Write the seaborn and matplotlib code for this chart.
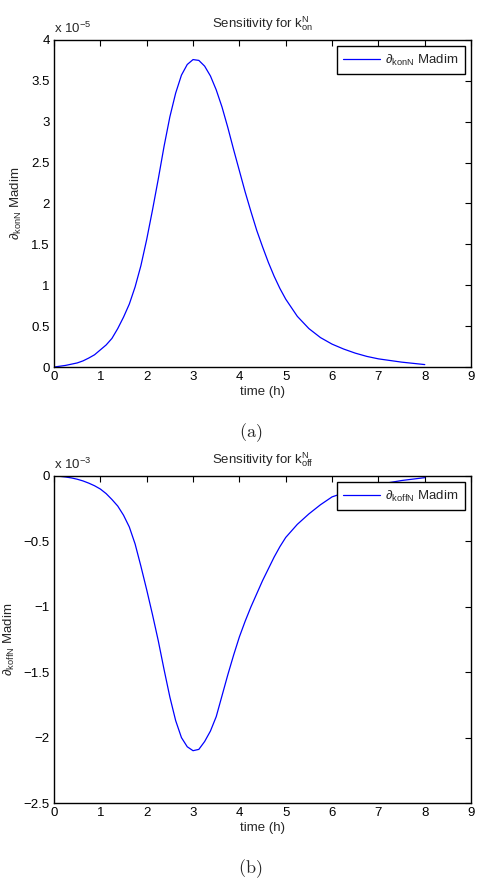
import numpy as np
import pandas as pd
import matplotlib
matplotlib.use("Agg")
import matplotlib.pyplot as plt
import seaborn as sns

# time (h) and sensitivities (scaled units)
time_h = [0, 0.125, 0.25, 0.375, 0.5, 0.625, 0.75, 0.875,
          1.0, 1.125, 1.25, 1.375, 1.5, 1.625, 1.75, 1.875,
          2.0, 2.125, 2.25, 2.375, 2.5, 2.625, 2.75, 2.875,
          3.0, 3.125, 3.25, 3.375, 3.5, 3.625, 3.75, 3.875,
          4.0, 4.125, 4.25, 4.375, 4.5, 4.625, 4.75, 4.875,
          5.0, 5.25, 5.5, 5.75, 6.0, 6.25, 6.5, 6.75, 7.0, 7.5, 8.0]

# x 1e-5
kon_sens = [0, 0.01, 0.02, 0.035, 0.05, 0.075, 0.11, 0.15,
            0.21, 0.27, 0.35, 0.47, 0.61, 0.77, 0.98, 1.24,
            1.56, 1.92, 2.30, 2.70, 3.06, 3.35, 3.57, 3.70,
            3.76, 3.75, 3.68, 3.56, 3.39, 3.18, 2.93, 2.66,
            2.40, 2.14, 1.90, 1.67, 1.47, 1.28, 1.11, 0.96,
            0.83, 0.62, 0.47, 0.36, 0.28, 0.22, 0.17, 0.13, 0.10, 0.06, 0.03]

# x 1e-3
koff_sens = [0, -0.003, -0.008, -0.015, -0.025, -0.038, -0.055, -0.075,
             -0.10, -0.135, -0.18, -0.23, -0.30, -0.39, -0.52, -0.69,
             -0.87, -1.06, -1.26, -1.48, -1.69, -1.87, -2.00, -2.07,
             -2.10, -2.09, -2.03, -1.95, -1.84, -1.68, -1.52, -1.37,
             -1.23, -1.11, -1.00, -0.90, -0.80, -0.71, -0.62, -0.54,
             -0.47, -0.37, -0.29, -0.22, -0.16, -0.13, -0.10, -0.08, -0.065, -0.035, -0.013]

x_ticks = [0, 1, 2, 3, 4, 5, 6, 7, 8, 9]
on_yticks = [0, 0.5, 1, 1.5, 2, 2.5, 3, 3.5, 4]
off_yticks = [-2.5, -2, -1.5, -1, -0.5, 0]

sns.set_style("white")
plt.rcParams["font.family"] = ["Liberation Sans", "DejaVu Sans"]
plt.rcParams["mathtext.fontset"] = "custom"
plt.rcParams["mathtext.rm"] = "Liberation Sans"
plt.rcParams["mathtext.it"] = "Liberation Sans"
plt.rcParams["mathtext.sf"] = "Liberation Sans"

fig = plt.figure(figsize=(4.8, 8.84), dpi=100)
ax1 = fig.add_axes([0.1125, 0.5848, 0.869, 0.370])
ax2 = fig.add_axes([0.1125, 0.0916, 0.869, 0.370])

panels = [
    (ax1, kon_sens, on_yticks, r"$\partial_{\mathrm{konN}}$ Madim",
     r"Sensitivity for k$^{\mathrm{N}}_{\mathrm{on}}$", r"x 10$^{-5}$", "(a)"),
    (ax2, koff_sens, off_yticks, r"$\partial_{\mathrm{koffN}}$ Madim",
     r"Sensitivity for k$^{\mathrm{N}}_{\mathrm{off}}$", r"x 10$^{-3}$", "(b)"),
]

for ax, s, yt, lab, title, mult, tag in panels:
    df = pd.DataFrame({"t": time_h, "s": s})
    sns.lineplot(data=df, x="t", y="s", ax=ax, color="#0000ff", linewidth=0.9, label=lab)
    ax.set_xlim(0, 9)
    ax.set_ylim(yt[0], yt[-1])
    ax.set_xticks(x_ticks)
    ax.set_yticks(yt)
    ax.set_yticklabels([("%g" % v).replace("-", "\u2212") for v in yt])
    ax.tick_params(direction="in", top=True, right=True, length=4, width=0.8,
                   labelsize=9.5, pad=3, colors="black")
    for sp in ax.spines.values():
        sp.set_color("black")
        sp.set_linewidth(1.0)
    ax.set_xlabel("time (h)", fontsize=9.5, labelpad=2)
    ax.set_ylabel(lab, fontsize=9.5, labelpad=5)
    ax.set_title(title, fontsize=9.5, pad=9)
    ax.text(0.0, 1.012, mult, transform=ax.transAxes, fontsize=9.5, ha="left", va="bottom")
    leg = ax.legend(loc="upper right", fontsize=9.5, handlelength=2.8, frameon=True,
                    fancybox=False, framealpha=1.0, borderaxespad=0.45, borderpad=0.5,
                    handletextpad=0.4)
    leg.get_frame().set_edgecolor("black")
    leg.get_frame().set_linewidth(1.0)
    bb = ax.get_position()
    fig.text(bb.x0 + bb.width / 2 - 0.025, bb.y0 - 0.074, r"$\mathrm{" + tag + "}$",
             math_fontfamily="cm", fontsize=13, ha="center", va="center")

fig.savefig("out.png", dpi=100)
